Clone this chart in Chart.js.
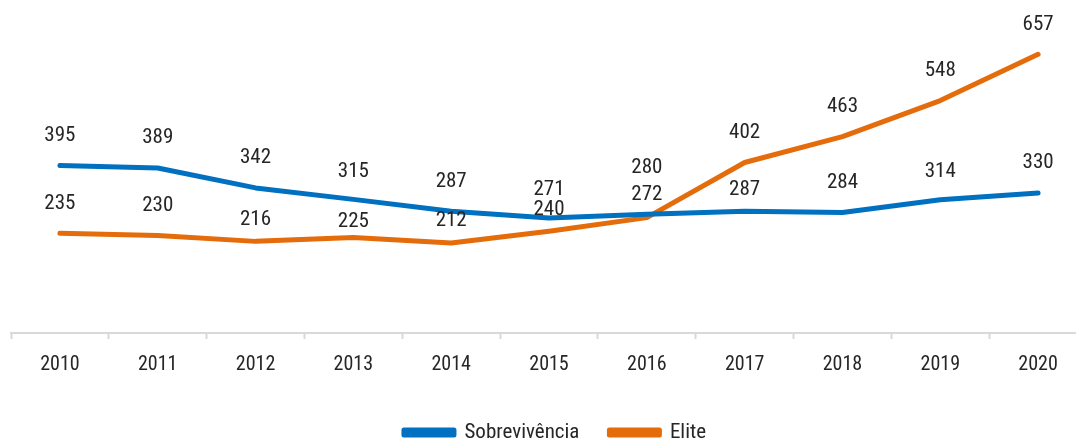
<!DOCTYPE html>
<html>
<head>
<meta charset="utf-8">
<script src="https://cdn.jsdelivr.net/npm/chart.js@4/dist/chart.umd.min.js"></script>
<style>
  html, body { margin: 0; padding: 0; overflow: hidden; background: #fff; }
  #wrap { width: 1110px; height: 438px; }
</style>
</head>
<body>
<div id="wrap"><canvas id="myChart"></canvas></div>
<script>
const years = ["2010", "2011", "2012", "2013", "2014", "2015", "2016", "2017", "2018", "2019", "2020"];
const sobrevivencia = [395, 389, 342, 315, 287, 271, 280, 287, 284, 314, 330];
const elite = [235, 230, 216, 225, 212, 240, 272, 402, 463, 548, 657];

const fontFam = "'Roboto Condensed', 'Liberation Sans Narrow', sans-serif";

// how far above its point each value label sits (px), some nudged to dodge the other line
const labelLift = [
  [30, 30, 30, 28, 30, 28, 46, 22, 30, 28, 30],
  [30, 30, 22, 16, 22, 21, 23, 30, 30, 30, 30],
];

const pointLabels = {
  id: "pointLabels",
  afterDatasetsDraw(chart) {
    const ctx = chart.ctx;
    ctx.save();
    ctx.font = "21px " + fontFam;
    ctx.fillStyle = "#262626";
    ctx.textAlign = "center";
    ctx.textBaseline = "middle";
    chart.data.datasets.forEach((ds, i) => {
      chart.getDatasetMeta(i).data.forEach((pt, j) => {
        ctx.fillText(ds.data[j], pt.x, pt.y - labelLift[i][j]);
      });
    });
    ctx.restore();
  }
};

// nudge the legend a little to the right
const legendShift = {
  id: "legendShift",
  afterLayout(chart) {
    chart.legend.left += 6;
    chart.legend.right += 6;
  }
};

new Chart("myChart", {
  type: "line",
  data: {
    labels: years,
    datasets: [
      {
        label: "Sobrevivência",
        data: sobrevivencia,
        borderColor: "#0070C0",
        backgroundColor: "#0070C0",
        borderWidth: 5,
        borderCapStyle: "round",
        borderJoinStyle: "round",
        pointRadius: 0,
        fill: false,
      },
      {
        label: "Elite",
        data: elite,
        borderColor: "#E46C0A",
        backgroundColor: "#E46C0A",
        borderWidth: 5,
        borderCapStyle: "round",
        borderJoinStyle: "round",
        pointRadius: 0,
        fill: false,
      },
    ],
  },
  options: {
    responsive: true,
    maintainAspectRatio: false,
    animation: false,
    layout: { padding: { left: 11, right: 23, top: 0, bottom: -15 } },
    scales: {
      x: {
        offset: true,
        grid: {
          offset: true,
          drawOnChartArea: false,
          drawTicks: true,
          tickLength: 6,
          tickWidth: 2,
          color: "#d9d9d9",
        },
        border: { display: true, color: "#d9d9d9", width: 2 },
        ticks: {
          color: "#262626",
          font: { size: 20, family: fontFam },
          padding: 14,
        },
        afterFit(scale) {
          scale.height += 1;
        },
      },
      y: {
        display: false,
        min: 0,
        max: 785,
      },
    },
    plugins: {
      legend: {
        position: "bottom",
        labels: {
          color: "#262626",
          font: { size: 21, family: fontFam },
          boxWidth: 50,
          boxHeight: 5,
          padding: 30,
        },
      },
      tooltip: { enabled: false },
    },
  },
  plugins: [pointLabels, legendShift],
});
</script>
</body>
</html>
